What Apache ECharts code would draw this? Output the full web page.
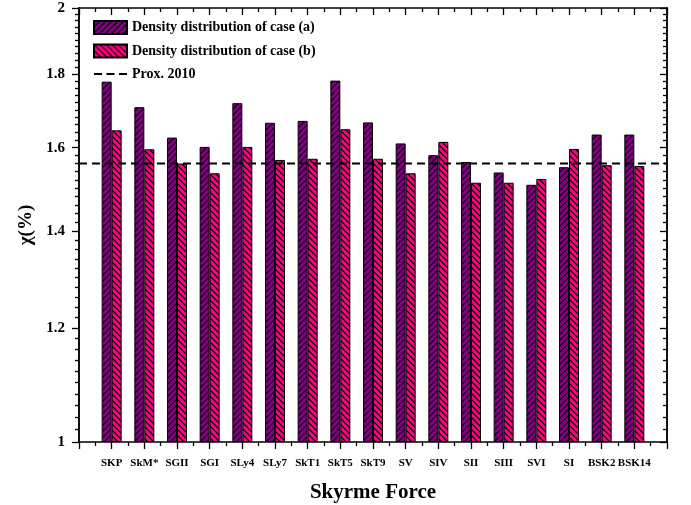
<!DOCTYPE html>
<html>
<head>
<meta charset="utf-8">
<script src="https://cdn.jsdelivr.net/npm/echarts@6/dist/echarts.min.js"></script>
<style>
  html, body { margin: 0; padding: 0; background: #fff; }
  #main { width: 691px; height: 505px; }
</style>
</head>
<body>
<div id="main"></div>
<script>
// forces on the x axis
const forces = ["SKP", "SkM*", "SGII", "SGI", "SLy4", "SLy7", "SkT1", "SkT5", "SkT9",
  "SV", "SIV", "SII", "SIII", "SVI", "SI", "BSK2", "BSK14"];
// chi (%) for the two density distributions
const caseA = [1.778, 1.707, 1.626, 1.602, 1.718, 1.665, 1.670, 1.781, 1.666,
  1.611, 1.581, 1.564, 1.538, 1.508, 1.551, 1.634, 1.634];
const caseB = [1.645, 1.596, 1.560, 1.536, 1.602, 1.569, 1.572, 1.648, 1.572,
  1.536, 1.615, 1.513, 1.513, 1.522, 1.597, 1.556, 1.554];
const prox2010 = 1.56;
const yTicks = [1, 1.2, 1.4, 1.6, 1.8, 2];

// minor ticks: 10 steps between each major tick
const yMinor = [];
for (let i = 0; i < yTicks.length - 1; i++) {
  const step = (yTicks[i + 1] - yTicks[i]) / 10;
  for (let k = 1; k < 10; k++) yMinor.push(+(yTicks[i] + k * step).toFixed(3));
}

// hatch fill
function hatch(bg, dir) {
  const s = 6;
  const c = document.createElement("canvas");
  c.width = s; c.height = s;
  const g = c.getContext("2d");
  g.fillStyle = bg;
  g.fillRect(0, 0, s, s);
  g.strokeStyle = "#000";
  g.lineWidth = 1.1;
  g.beginPath();
  if (dir > 0) {
    g.moveTo(-1, s + 1); g.lineTo(s + 1, -1);
    g.moveTo(-1, 1); g.lineTo(1, -1);
    g.moveTo(s - 1, s + 1); g.lineTo(s + 1, s - 1);
  } else {
    g.moveTo(-1, -1); g.lineTo(s + 1, s + 1);
    g.moveTo(s - 1, -1); g.lineTo(s + 1, 1);
    g.moveTo(-1, s - 1); g.lineTo(1, s + 1);
  }
  g.stroke();
  return { image: c, repeat: "repeat" };
}

const serif = "Liberation Serif";
const chart = echarts.init(document.getElementById("main"));

const xBase = {
  type: "value", min: 0, max: 18, interval: 1,
  splitLine: { show: false },
  axisLine: { lineStyle: { color: "#000", width: 1.5 } },
  minorTick: { show: true, splitNumber: 2, length: 4, lineStyle: { color: "#000", width: 1.3 } },
  axisTick: { length: 7, lineStyle: { color: "#000", width: 1.3 } }
};
const yBase = {
  type: "log", logBase: 10, min: 1, max: 2,
  splitLine: { show: false },
  axisLine: { show: true, lineStyle: { color: "#000", width: 1.5 } }
};

const option = {
  animation: false,
  grid: { left: 79, right: 24, top: 8, bottom: 63, outerBoundsMode: "none" },
  legend: {
    orient: "vertical", left: 88, top: 15, itemWidth: 33, itemHeight: 13, itemGap: 8.5,
    textStyle: { fontFamily: serif, fontWeight: "bold", fontSize: 14, color: "#000" },
    data: [
      { name: "Density distribution of case (a)", icon: "rect" },
      { name: "Density distribution of case (b)", icon: "rect" },
      {
        name: "Prox. 2010",
        icon: "path://M0,0h8v2h-8z M12.5,0h8v2h-8z M25,0h8v2h-8z",
        itemStyle: { color: "#000" }
      }
    ]
  },
  xAxis: [
    Object.assign({}, xBase, {
      position: "bottom",
      name: "Skyrme Force", nameLocation: "middle", nameGap: 40,
      nameTextStyle: { fontFamily: serif, fontWeight: "bold", fontSize: 21, color: "#000" },
      axisLabel: {
        margin: 16, fontFamily: serif, fontWeight: "bold", fontSize: 11, color: "#000",
        formatter: v => forces[v - 1] || ""
      }
    }),
    Object.assign({}, xBase, {
      position: "top",
      axisTick: { inside: true, length: 7, lineStyle: { color: "#000", width: 1.3 } },
      minorTick: { show: true, splitNumber: 2, length: 4, lineStyle: { color: "#000", width: 1.3 } },
      axisLabel: { show: false }
    })
  ],
  yAxis: [
    Object.assign({}, yBase, {
      position: "left",
      name: "χ(%)", nameLocation: "middle", nameGap: 42,
      nameTextStyle: { fontFamily: serif, fontWeight: "bold", fontSize: 19, color: "#000" },
      axisTick: { length: 7, customValues: yTicks, lineStyle: { color: "#000", width: 1.3 } },
      axisLabel: {
        margin: 14, customValues: yTicks, fontFamily: serif, fontWeight: "bold", fontSize: 15, color: "#000",
        formatter: v => String(+v.toFixed(1))
      }
    }),
    Object.assign({}, yBase, {
      position: "left",
      axisTick: { length: 4, customValues: yMinor, lineStyle: { color: "#000", width: 1.3 } },
      axisLabel: { show: false }
    }),
    Object.assign({}, yBase, {
      position: "right",
      axisTick: { inside: true, length: 7, customValues: yTicks, lineStyle: { color: "#000", width: 1.3 } },
      axisLabel: { show: false }
    }),
    Object.assign({}, yBase, {
      position: "right",
      axisTick: { inside: true, length: 4, customValues: yMinor, lineStyle: { color: "#000", width: 1.3 } },
      axisLabel: { show: false }
    })
  ],
  series: [
    {
      name: "Density distribution of case (a)", type: "bar", barWidth: 10, barGap: "0%",
      itemStyle: { color: hatch("#800080", 1), borderColor: "#000", borderWidth: 1 },
      data: caseA.map((v, i) => [i + 1, v])
    },
    {
      name: "Density distribution of case (b)", type: "bar", barWidth: 10, barGap: "0%",
      itemStyle: { color: hatch("#ff0080", -1), borderColor: "#000", borderWidth: 1 },
      data: caseB.map((v, i) => [i + 1, v])
    },
    {
      name: "Prox. 2010", type: "line", symbol: "none", z: 5,
      itemStyle: { color: "#000" },
      lineStyle: { color: "#000", width: 2, type: [8, 5] },
      data: [[0, prox2010], [18, prox2010]]
    }
  ]
};
chart.setOption(option);
</script>
</body>
</html>
